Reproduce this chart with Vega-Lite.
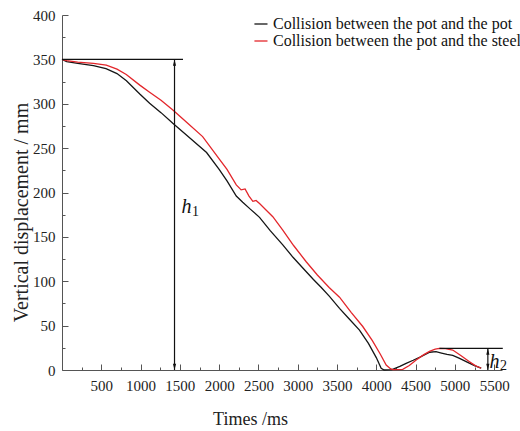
{
  "$schema": "https://vega.github.io/schema/vega-lite/v6.json",
  "width": 440,
  "height": 355,
  "autosize": "none",
  "padding": {"left": 62, "top": 15, "right": 18, "bottom": 61},
  "background": "white",
  "config": {
    "view": {"stroke": null},
    "font": "Liberation Serif",
    "axis": {"grid": false, "domainColor": "#555", "tickColor": "#555", "labelColor": "#222", "titleColor": "#222", "labelFont": "Liberation Serif", "titleFont": "Liberation Serif", "titleFontWeight": "normal", "labelFontSize": 15}
  },
  "resolve": {"axis": {"x": "independent", "y": "independent"}},
  "layer": [
    {
      "data": {"values": [
        {"t": 0, "d": 350, "s": "Collision between the pot and the pot"},
        {"t": 60, "d": 347.5, "s": "Collision between the pot and the pot"},
        {"t": 200, "d": 345.5, "s": "Collision between the pot and the pot"},
        {"t": 400, "d": 343, "s": "Collision between the pot and the pot"},
        {"t": 560, "d": 339.5, "s": "Collision between the pot and the pot"},
        {"t": 700, "d": 334, "s": "Collision between the pot and the pot"},
        {"t": 820, "d": 326, "s": "Collision between the pot and the pot"},
        {"t": 990, "d": 311, "s": "Collision between the pot and the pot"},
        {"t": 1115, "d": 300.5, "s": "Collision between the pot and the pot"},
        {"t": 1260, "d": 290, "s": "Collision between the pot and the pot"},
        {"t": 1410, "d": 278, "s": "Collision between the pot and the pot"},
        {"t": 1620, "d": 262, "s": "Collision between the pot and the pot"},
        {"t": 1840, "d": 245, "s": "Collision between the pot and the pot"},
        {"t": 2000, "d": 226, "s": "Collision between the pot and the pot"},
        {"t": 2100, "d": 213, "s": "Collision between the pot and the pot"},
        {"t": 2218, "d": 196, "s": "Collision between the pot and the pot"},
        {"t": 2300, "d": 189, "s": "Collision between the pot and the pot"},
        {"t": 2400, "d": 181, "s": "Collision between the pot and the pot"},
        {"t": 2514, "d": 172, "s": "Collision between the pot and the pot"},
        {"t": 2650, "d": 157, "s": "Collision between the pot and the pot"},
        {"t": 2810, "d": 141, "s": "Collision between the pot and the pot"},
        {"t": 2940, "d": 127, "s": "Collision between the pot and the pot"},
        {"t": 3065, "d": 115, "s": "Collision between the pot and the pot"},
        {"t": 3200, "d": 102, "s": "Collision between the pot and the pot"},
        {"t": 3300, "d": 93, "s": "Collision between the pot and the pot"},
        {"t": 3404, "d": 83, "s": "Collision between the pot and the pot"},
        {"t": 3532, "d": 69.5, "s": "Collision between the pot and the pot"},
        {"t": 3650, "d": 58, "s": "Collision between the pot and the pot"},
        {"t": 3786, "d": 45, "s": "Collision between the pot and the pot"},
        {"t": 3900, "d": 30, "s": "Collision between the pot and the pot"},
        {"t": 4000, "d": 14, "s": "Collision between the pot and the pot"},
        {"t": 4062, "d": 2, "s": "Collision between the pot and the pot"},
        {"t": 4100, "d": 0, "s": "Collision between the pot and the pot"},
        {"t": 4200, "d": 0.5, "s": "Collision between the pot and the pot"},
        {"t": 4300, "d": 4, "s": "Collision between the pot and the pot"},
        {"t": 4380, "d": 7.5, "s": "Collision between the pot and the pot"},
        {"t": 4470, "d": 11, "s": "Collision between the pot and the pot"},
        {"t": 4550, "d": 14.3, "s": "Collision between the pot and the pot"},
        {"t": 4680, "d": 20, "s": "Collision between the pot and the pot"},
        {"t": 4760, "d": 20.6, "s": "Collision between the pot and the pot"},
        {"t": 4830, "d": 19, "s": "Collision between the pot and the pot"},
        {"t": 4900, "d": 17.5, "s": "Collision between the pot and the pot"},
        {"t": 4973, "d": 16.5, "s": "Collision between the pot and the pot"},
        {"t": 5060, "d": 13, "s": "Collision between the pot and the pot"},
        {"t": 5144, "d": 9.4, "s": "Collision between the pot and the pot"},
        {"t": 5250, "d": 5, "s": "Collision between the pot and the pot"},
        {"t": 5335, "d": 2, "s": "Collision between the pot and the pot"},
        {"t": 0, "d": 350, "s": "Collision between the pot and the steel"},
        {"t": 60, "d": 348.5, "s": "Collision between the pot and the steel"},
        {"t": 200, "d": 347, "s": "Collision between the pot and the steel"},
        {"t": 400, "d": 345.5, "s": "Collision between the pot and the steel"},
        {"t": 564, "d": 343.5, "s": "Collision between the pot and the steel"},
        {"t": 700, "d": 339, "s": "Collision between the pot and the steel"},
        {"t": 818, "d": 333, "s": "Collision between the pot and the steel"},
        {"t": 990, "d": 321, "s": "Collision between the pot and the steel"},
        {"t": 1115, "d": 313, "s": "Collision between the pot and the steel"},
        {"t": 1260, "d": 304, "s": "Collision between the pot and the steel"},
        {"t": 1411, "d": 293, "s": "Collision between the pot and the steel"},
        {"t": 1600, "d": 278, "s": "Collision between the pot and the steel"},
        {"t": 1790, "d": 263, "s": "Collision between the pot and the steel"},
        {"t": 2000, "d": 238, "s": "Collision between the pot and the steel"},
        {"t": 2100, "d": 226, "s": "Collision between the pot and the steel"},
        {"t": 2218, "d": 208.5, "s": "Collision between the pot and the steel"},
        {"t": 2280, "d": 203, "s": "Collision between the pot and the steel"},
        {"t": 2330, "d": 204, "s": "Collision between the pot and the steel"},
        {"t": 2380, "d": 196, "s": "Collision between the pot and the steel"},
        {"t": 2429, "d": 190, "s": "Collision between the pot and the steel"},
        {"t": 2470, "d": 191, "s": "Collision between the pot and the steel"},
        {"t": 2514, "d": 187.5, "s": "Collision between the pot and the steel"},
        {"t": 2600, "d": 180, "s": "Collision between the pot and the steel"},
        {"t": 2683, "d": 172.7, "s": "Collision between the pot and the steel"},
        {"t": 2810, "d": 157.7, "s": "Collision between the pot and the steel"},
        {"t": 2950, "d": 140, "s": "Collision between the pot and the steel"},
        {"t": 3108, "d": 122, "s": "Collision between the pot and the steel"},
        {"t": 3250, "d": 107, "s": "Collision between the pot and the steel"},
        {"t": 3400, "d": 93, "s": "Collision between the pot and the steel"},
        {"t": 3532, "d": 82, "s": "Collision between the pot and the steel"},
        {"t": 3680, "d": 65, "s": "Collision between the pot and the steel"},
        {"t": 3828, "d": 49, "s": "Collision between the pot and the steel"},
        {"t": 3950, "d": 33, "s": "Collision between the pot and the steel"},
        {"t": 4050, "d": 18, "s": "Collision between the pot and the steel"},
        {"t": 4126, "d": 5.6, "s": "Collision between the pot and the steel"},
        {"t": 4180, "d": 1.5, "s": "Collision between the pot and the steel"},
        {"t": 4210, "d": 0.5, "s": "Collision between the pot and the steel"},
        {"t": 4337, "d": 0.8, "s": "Collision between the pot and the steel"},
        {"t": 4420, "d": 5, "s": "Collision between the pot and the steel"},
        {"t": 4508, "d": 11.3, "s": "Collision between the pot and the steel"},
        {"t": 4600, "d": 17, "s": "Collision between the pot and the steel"},
        {"t": 4677, "d": 21, "s": "Collision between the pot and the steel"},
        {"t": 4750, "d": 23.5, "s": "Collision between the pot and the steel"},
        {"t": 4804, "d": 24.4, "s": "Collision between the pot and the steel"},
        {"t": 4880, "d": 24, "s": "Collision between the pot and the steel"},
        {"t": 4973, "d": 22.5, "s": "Collision between the pot and the steel"},
        {"t": 5080, "d": 16, "s": "Collision between the pot and the steel"},
        {"t": 5186, "d": 9.4, "s": "Collision between the pot and the steel"},
        {"t": 5260, "d": 5, "s": "Collision between the pot and the steel"},
        {"t": 5335, "d": 2, "s": "Collision between the pot and the steel"}
      ]},
      "mark": {"type": "line", "strokeWidth": 1.3},
      "encoding": {
        "x": {"field": "t", "type": "quantitative", "scale": {"domain": [0, 5600], "nice": false, "zero": false},
          "axis": {"orient": "bottom", "values": [250, 750, 1250, 1750, 2250, 2750, 3250, 3750, 4250, 4750, 5250], "labels": false, "domain": false, "tickSize": -3, "title": null}},
        "y": {"field": "d", "type": "quantitative", "scale": {"domain": [0, 400], "nice": false},
          "axis": {"orient": "left", "values": [25, 75, 125, 175, 225, 275, 325, 375], "labels": false, "domain": false, "tickSize": -3, "title": null}},
        "color": {"field": "s", "type": "nominal",
          "scale": {"domain": ["Collision between the pot and the pot", "Collision between the pot and the steel"], "range": ["#151515", "#e3262b"]},
          "legend": {"orient": "none", "legendX": 191, "legendY": 1, "title": null, "symbolType": "stroke", "symbolSize": 169, "symbolStrokeWidth": 1.3, "labelFont": "Liberation Serif", "labelFontSize": 16, "labelColor": "#111", "labelLimit": 600, "labelOffset": 4, "rowPadding": 1, "padding": 0}}
      }
    },
    {
      "data": {"values": [
        {"x": 0, "x2": 1540, "y": 350, "y2": 350},
        {"x": 1432, "x2": 1432, "y": 0, "y2": 350},
        {"x": 4804, "x2": 5610, "y": 24.4, "y2": 24.4},
        {"x": 5420, "x2": 5420, "y": 0, "y2": 24.4}
      ]},
      "mark": {"type": "rule", "color": "#111", "strokeWidth": 1.2},
      "encoding": {
        "x": {"field": "x", "type": "quantitative", "scale": {"domain": [0, 5600], "nice": false, "zero": false},
          "axis": {"orient": "bottom", "values": [500, 1000, 1500, 2000, 2500, 3000, 3500, 4000, 4500, 5000, 5500], "format": "d", "labelFont": "Liberation Serif", "labelFontSize": 15, "tickSize": -6, "labelPadding": 14, "title": "Times /ms", "titleFont": "Liberation Serif", "titleFontSize": 18, "titleX": 188, "titleY": 54, "titleAlign": "center", "titleBaseline": "alphabetic"}},
        "x2": {"field": "x2"},
        "y": {"field": "y", "type": "quantitative", "scale": {"domain": [0, 400], "nice": false},
          "axis": {"orient": "left", "values": [0, 50, 100, 150, 200, 250, 300, 350, 400], "format": "d", "labelFont": "Liberation Serif", "labelFontSize": 15, "tickSize": -6, "labelPadding": 13, "title": "Vertical displacement / mm", "titleFont": "Liberation Serif", "titleFontSize": 20, "titleX": -41, "titleY": 197, "titleAlign": "center", "titleBaseline": "middle"}},
        "y2": {"field": "y2"}
      }
    },
    {
      "data": {"values": [
        {"x": 1432, "y": 350, "dir": "up"},
        {"x": 1432, "y": 0, "dir": "down"},
        {"x": 5420, "y": 24.4, "dir": "up"},
        {"x": 5420, "y": 0, "dir": "down"}
      ]},
      "mark": {"type": "point", "filled": true, "color": "#111", "size": 50, "opacity": 1},
      "encoding": {
        "x": {"field": "x", "type": "quantitative", "scale": {"domain": [0, 5600], "nice": false, "zero": false}, "axis": null},
        "y": {"field": "y", "type": "quantitative", "scale": {"domain": [0, 400], "nice": false}, "axis": null},
        "shape": {"field": "dir", "type": "nominal", "scale": {"domain": ["up", "down"], "range": ["M0,0L0.45,1.8L-0.45,1.8Z", "M0,0L0.45,-1.8L-0.45,-1.8Z"]}, "legend": null}
      }
    },
    {
      "data": {"values": [
        {"x": 1520, "y": 177, "t": "h"},
        {"x": 5440, "y": 2.5, "t": "h"}
      ]},
      "mark": {"type": "text", "font": "Liberation Serif", "fontStyle": "italic", "fontSize": 20, "align": "left", "baseline": "alphabetic", "color": "#111"},
      "encoding": {
        "x": {"field": "x", "type": "quantitative", "scale": {"domain": [0, 5600], "nice": false, "zero": false}, "axis": null},
        "y": {"field": "y", "type": "quantitative", "scale": {"domain": [0, 400], "nice": false}, "axis": null},
        "text": {"field": "t"}
      }
    },
    {
      "data": {"values": [
        {"x": 1655, "y": 173.5, "t": "1"},
        {"x": 5575, "y": 0, "t": "2"}
      ]},
      "mark": {"type": "text", "font": "Liberation Serif", "fontSize": 14, "align": "left", "baseline": "alphabetic", "color": "#111"},
      "encoding": {
        "x": {"field": "x", "type": "quantitative", "scale": {"domain": [0, 5600], "nice": false, "zero": false}, "axis": null},
        "y": {"field": "y", "type": "quantitative", "scale": {"domain": [0, 400], "nice": false}, "axis": null},
        "text": {"field": "t"}
      }
    }
  ]
}
